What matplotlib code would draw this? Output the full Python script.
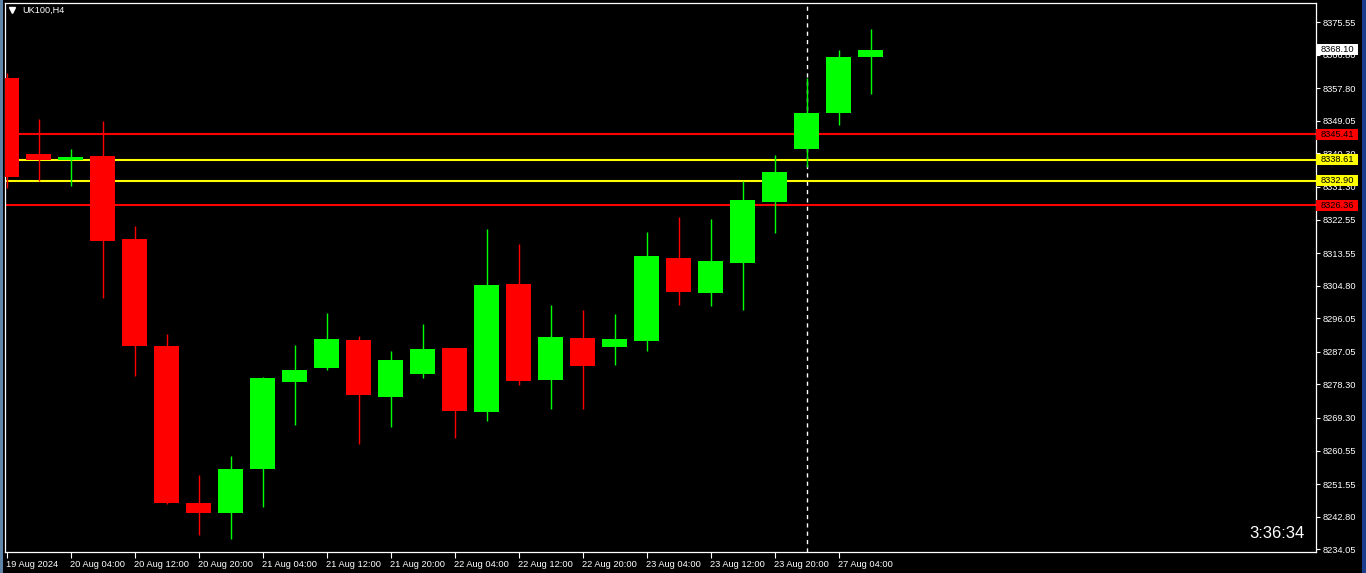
import numpy as np
import matplotlib
matplotlib.use("Agg")
import matplotlib.pyplot as plt
from matplotlib.patches import Rectangle
from matplotlib.lines import Line2D
import matplotlib.transforms as mtransforms

# ---- data (UK100, H4) ----
opens  = [8360.52, 8340.13, 8338.60, 8339.59, 8317.32, 8288.61, 8246.47, 8243.87,
          8255.50, 8279.03, 8282.78, 8290.22, 8275.00, 8281.17, 8288.07, 8270.89,
          8305.24, 8279.48, 8290.75, 8288.42, 8290.03, 8312.22, 8302.91, 8310.96,
          8327.33, 8341.55, 8351.21, 8366.24]
highs  = [8361.86, 8349.52, 8341.47, 8348.98, 8320.81, 8291.83, 8253.99, 8259.09,
          8280.20, 8288.87, 8297.46, 8291.29, 8287.26, 8294.51, 8288.10, 8320.00,
          8315.98, 8299.61, 8298.27, 8297.19, 8319.20, 8323.22, 8322.69, 8332.88,
          8339.86, 8360.44, 8367.96, 8373.67]
lows   = [8331.00, 8332.88, 8331.62, 8301.57, 8280.63, 8246.28, 8237.97, 8236.90,
          8245.48, 8267.49, 8282.24, 8262.39, 8266.95, 8280.10, 8264.00, 8268.48,
          8278.22, 8271.78, 8271.78, 8283.59, 8287.34, 8299.69, 8299.42, 8298.35,
          8319.01, 8336.72, 8347.99, 8356.31]
closes = [8333.96, 8338.60, 8339.32, 8316.78, 8288.69, 8246.55, 8243.87, 8255.60,
          8280.02, 8282.16, 8290.48, 8275.46, 8284.85, 8287.80, 8271.16, 8304.97,
          8279.21, 8291.02, 8283.32, 8290.48, 8312.76, 8303.18, 8311.41, 8327.78,
          8335.30, 8351.13, 8366.16, 8368.10]

time_tick_bars = [0, 2, 4, 6, 8, 10, 12, 14, 16, 18, 20, 22, 24, 26]
time_tick_labels = ["19 Aug 2024", "20 Aug 04:00", "20 Aug 12:00", "20 Aug 20:00",
                    "21 Aug 04:00", "21 Aug 12:00", "21 Aug 20:00", "22 Aug 04:00",
                    "22 Aug 12:00", "22 Aug 20:00", "23 Aug 04:00", "23 Aug 12:00",
                    "23 Aug 20:00", "27 Aug 04:00"]

price_ticks = [8375.55, 8366.80, 8357.80, 8349.05, 8340.30, 8331.30, 8322.55,
               8313.55, 8304.80, 8296.05, 8287.05, 8278.30, 8269.30, 8260.55,
               8251.55, 8242.80, 8234.05]

level_prices = [8345.41, 8338.61, 8332.90, 8326.36]
level_colors = ["#FF0000", "#FFFF00", "#FFFF00", "#FF0000"]
current_price = 8368.10
separator_bar = 25
countdown = "3:36:34"
symbol_label = "UK100,H4"

# ---- figure ----
W, H = 1366, 573
fig = plt.figure(figsize=(W / 100, H / 100), dpi=100, facecolor="black")
ax = fig.add_axes([5 / W, 21 / H, 1311 / W, 549 / H], facecolor="black")

UP, DOWN = "#00FF00", "#FF0000"
x = np.arange(len(opens))
body_w = 25 / 32
for i in x:
    o, h, l, c = opens[i], highs[i], lows[i], closes[i]
    col = UP if c >= o else DOWN
    ax.vlines(i, l, h, color=col, linewidth=1.0, zorder=3)
    bottom = min(o, c)
    height = max(abs(c - o), 0.35)
    ax.add_patch(Rectangle((i - body_w / 2, bottom), body_w, height,
                           facecolor=col, edgecolor="none", zorder=4))

for p, col in zip(level_prices, level_colors):
    ax.axhline(p, color=col, linewidth=1.5, zorder=2)

ax.axvline(separator_bar, color="white", linewidth=1.0,
           linestyle=(0, (3, 3)), zorder=1)

ax.set_xlim((5 - 6.5) / 32, (1316 - 6.5) / 32)
ax.set_ylim(8233.33, 8380.65)

FONT = "Liberation Sans"
ax.yaxis.tick_right()
ax.set_yticks(price_ticks)
ax.set_yticklabels([f"{v:.2f}" for v in price_ticks])
ax.tick_params(axis="y", direction="out", length=3, width=0.8, colors="white",
               labelsize=6.7, pad=2)
ax.set_xticks(time_tick_bars)
ax.set_xticklabels(time_tick_labels)
ax.tick_params(axis="x", direction="out", length=4, width=0.8, colors="white",
               labelsize=6.7, pad=2)
for lab in ax.get_xticklabels():
    lab.set_horizontalalignment("left")
    lab.set_family(FONT)
    lab.set_x(lab.get_position()[0])
for lab in ax.get_yticklabels():
    lab.set_family(FONT)
# shift x tick labels slightly left to sit at the tick
offset = mtransforms.ScaledTranslation(-1 / 100, 0, fig.dpi_scale_trans)
for lab in ax.get_xticklabels():
    lab.set_transform(lab.get_transform() + offset)

for s in ax.spines.values():
    s.set_color("white")
    s.set_linewidth(0.9)

# price labels on right axis
trans = mtransforms.blended_transform_factory(ax.transAxes, ax.transData)
box_w = 42 / 1311
box_h = 11 / 3.7265


def price_box(p, fc):
    ax.add_patch(Rectangle((1.0, p - box_h / 2), box_w, box_h, transform=trans,
                           facecolor=fc, edgecolor="none", clip_on=False, zorder=20))
    ax.text(1.0 + 5 / 1311, p, f"{p:.2f}", transform=trans, color="black",
            fontsize=6.7, family=FONT, va="center", ha="left", zorder=21,
            clip_on=False)


price_box(current_price, "white")
for p, col in zip(level_prices, level_colors):
    price_box(p, col)

# header and countdown
fig.text(22 / W, 1 - 10 / H, symbol_label, color="white", fontsize=6.6,
         family=FONT, va="center", ha="left")
fig.add_artist(Line2D([12 / W], [1 - 10 / H], marker="v", markersize=4,
                      color="white", transform=fig.transFigure))
fig.text(1305 / W, 1 - 533 / H, countdown, color="white", fontsize=12,
         family=FONT, va="center", ha="right")

# window borders
fig.add_artist(Rectangle((0, 0), 3 / W, 1, transform=fig.transFigure,
                         facecolor="#5f84a8", edgecolor="none"))
fig.add_artist(Rectangle((1362 / W, 0), 4 / W, 1, transform=fig.transFigure,
                         facecolor="#1c3c8c", edgecolor="none"))

fig.savefig("out.png", dpi=100, facecolor="black")
